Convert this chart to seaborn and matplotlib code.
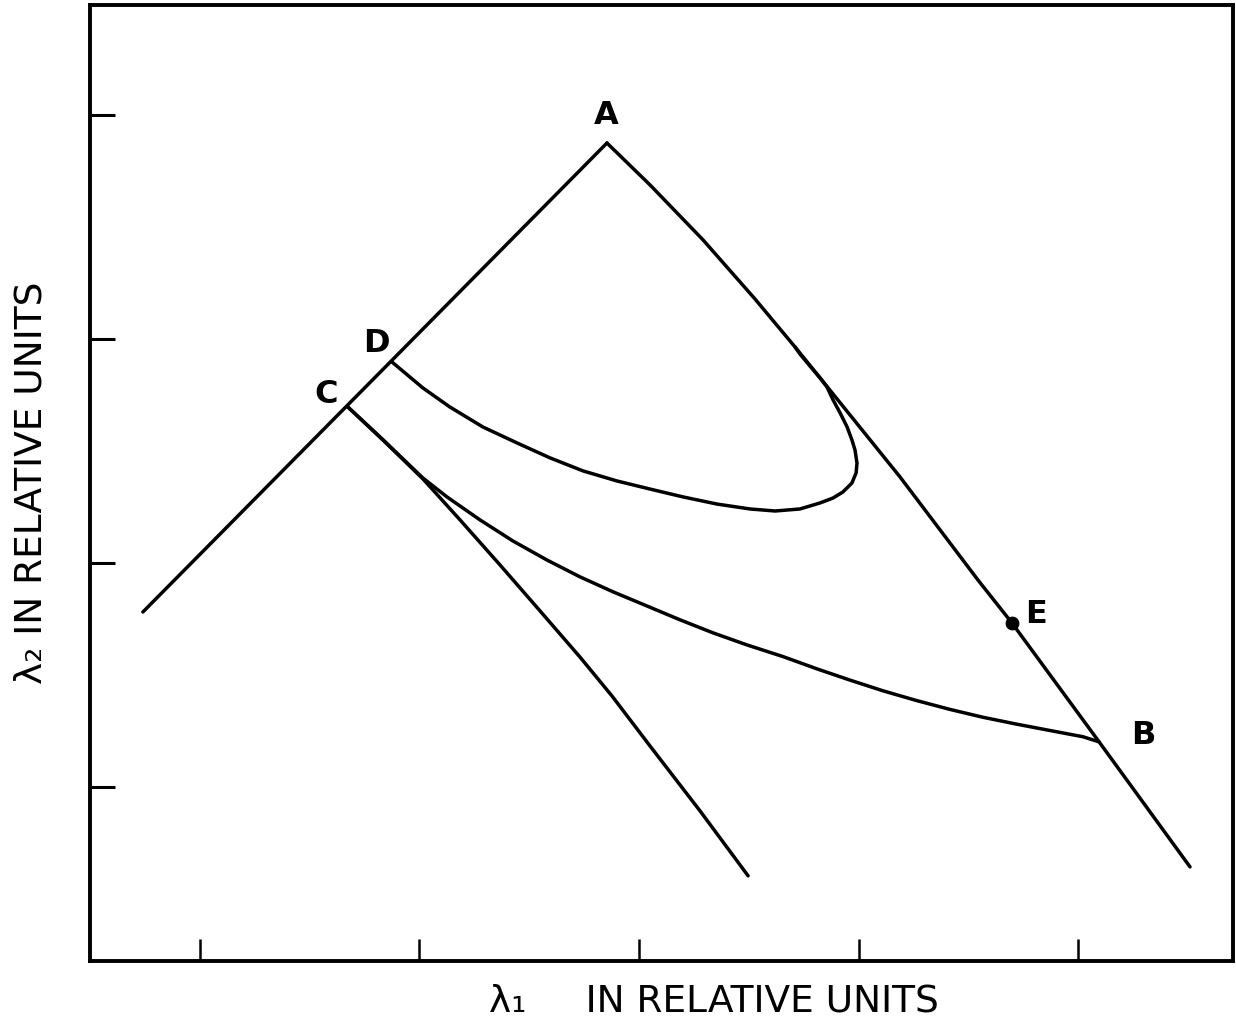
import matplotlib
matplotlib.use("Agg")
import matplotlib.pyplot as plt
import seaborn as sns
import pandas as pd

# Boundary line rising from the lower left to the apex A
left_x = [0.740, 2.854]
left_y = [1.781, 3.875]

# Boundary curve from A down through E and B
ab_x = [2.854, 3.050, 3.292, 3.528, 3.711, 3.961, 4.189, 4.544, 4.699, 5.096, 5.510]
ab_y = [3.875, 3.688, 3.442, 3.179, 2.964, 2.661, 2.384, 1.924, 1.732, 1.201, 0.643]

# Lower branch leaving C
cl_x = [1.674, 1.843, 2.016, 2.185, 2.367, 2.549, 2.731, 2.877, 3.050, 3.278, 3.497]
cl_y = [2.696, 2.540, 2.375, 2.192, 1.991, 1.786, 1.580, 1.406, 1.183, 0.893, 0.603]

# Curve from C to B
cb_x = [1.674, 1.820, 2.016, 2.125, 2.276, 2.426, 2.581, 2.731, 2.882, 3.036, 3.187,
        3.337, 3.492, 3.656, 3.811, 3.961, 4.112, 4.267, 4.417, 4.567, 4.722, 4.872,
        5.023, 5.096]
cb_y = [2.696, 2.563, 2.379, 2.295, 2.192, 2.098, 2.013, 1.938, 1.871, 1.808, 1.746,
        1.688, 1.634, 1.582, 1.527, 1.477, 1.429, 1.385, 1.346, 1.311, 1.280, 1.252,
        1.224, 1.201]

# Loop from D back to the A-B boundary
d_x = [1.875, 2.016, 2.139, 2.289, 2.444, 2.595, 2.745, 2.900, 3.050, 3.200, 3.355,
       3.506, 3.620, 3.733, 3.825, 3.884, 3.929, 3.970, 3.989, 3.993, 3.984, 3.970,
       3.948, 3.916, 3.884, 3.856, 3.825, 3.779, 3.733, 3.711]
d_y = [2.897, 2.781, 2.696, 2.607, 2.536, 2.469, 2.411, 2.366, 2.330, 2.295, 2.263,
       2.241, 2.232, 2.241, 2.268, 2.290, 2.317, 2.357, 2.402, 2.446, 2.504, 2.549,
       2.607, 2.670, 2.728, 2.786, 2.826, 2.879, 2.933, 2.964]

# Point E
e_x = [4.699]
e_y = [1.732]

# Letter labels
point_names = ["A", "D", "C", "E", "B"]
point_lx = [2.850, 1.802, 1.574, 4.809, 5.296]
point_ly = [3.996, 2.982, 2.750, 1.768, 1.228]

x_ticks = [1, 2, 3, 4, 5]
y_ticks = [1, 2, 3, 4]

sns.set_style("white")
plt.rcParams["font.family"] = ["DejaVu Sans"]

fig = plt.figure(figsize=(12.36, 10.27), dpi=100)
ax = fig.add_axes([0.0728, 0.0643, 0.9248, 0.9308])

lw = 2.5
for xs, ys in [(left_x, left_y), (ab_x, ab_y), (cl_x, cl_y), (cb_x, cb_y), (d_x, d_y)]:
    df = pd.DataFrame({"x": xs, "y": ys})
    sns.lineplot(data=df, x="x", y="y", sort=False, estimator=None,
                 color="black", linewidth=lw, ax=ax,
                 solid_joinstyle="round", solid_capstyle="round")

sns.scatterplot(x=e_x, y=e_y, color="black", s=85, edgecolor="black", ax=ax, zorder=5)

for name, lx, ly in zip(point_names, point_lx, point_ly):
    ax.text(lx, ly, name, fontsize=23, fontweight="bold", ha="center", va="center",
            color="black")

ax.set_xlim(0.499, 5.706)
ax.set_ylim(0.223, 4.491)
ax.set_xticks(x_ticks)
ax.set_yticks(y_ticks)
ax.set_xticklabels([])
ax.set_yticklabels([])
ax.tick_params(axis="x", bottom=True, direction="in", length=16, width=1.8, color="black")
ax.tick_params(axis="y", left=True, direction="in", length=18, width=2.2, color="black")
for sp in ax.spines.values():
    sp.set_visible(True)
    sp.set_linewidth(2.8)
    sp.set_color("black")

ax.set_xlabel("λ₁     IN RELATIVE UNITS", fontsize=27, color="black")
ax.set_ylabel("λ₂ IN RELATIVE UNITS", fontsize=27, color="black")
ax.xaxis.set_label_coords(0.5455, -0.024)
ax.yaxis.set_label_coords(-0.035, 0.5)

fig.savefig("out.png", dpi=100)
